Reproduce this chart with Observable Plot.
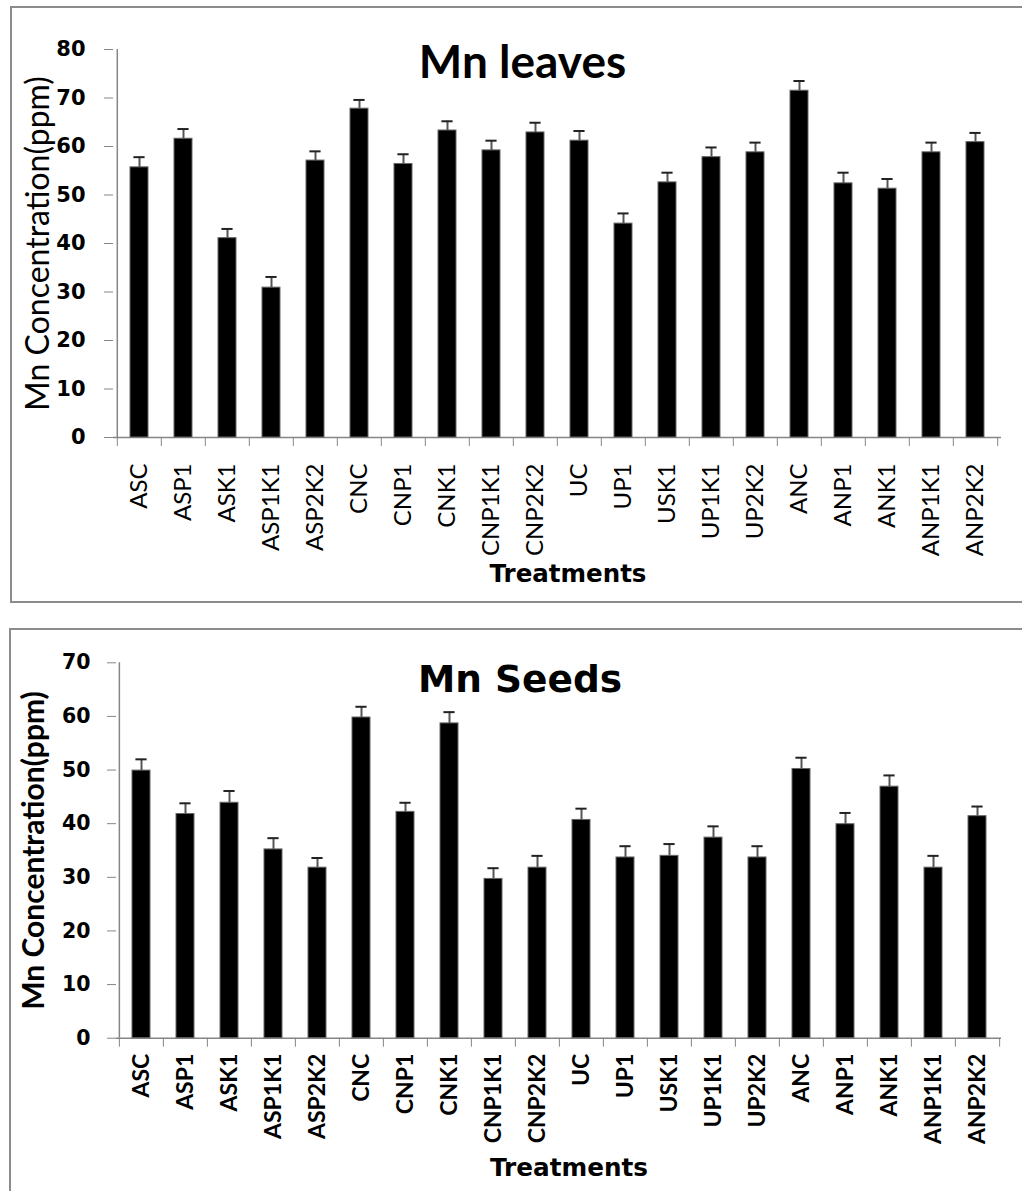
<!DOCTYPE html>
<html><head><meta charset="utf-8">
<script src="https://cdn.jsdelivr.net/npm/d3@7"></script>
<script src="https://cdn.jsdelivr.net/npm/@observablehq/plot@0.6"></script>
<style>
html,body{margin:0;padding:0;background:#fff;overflow:hidden;width:1022px;height:1191px;}
</style></head><body><div id="c"></div>
<script>
const cats = ["ASC","ASP1","ASK1","ASP1K1","ASP2K2","CNC","CNP1","CNK1","CNP1K1","CNP2K2","UC","UP1","USK1","UP1K1","UP2K2","ANC","ANP1","ANK1","ANP1K1","ANP2K2"];
const leafMn = [55.7,61.6,41.1,30.9,57.1,67.8,56.4,63.3,59.2,62.9,61.2,44.1,52.6,57.8,58.8,71.5,52.4,51.3,58.8,60.9];
const leafErr = [2.1,2.0,1.9,2.2,1.9,1.8,2.0,1.9,2.0,2.0,2.0,2.1,2.0,2.0,2.0,2.0,2.2,2.0,2.0,1.9];
const seedMn = [49.9,41.8,43.9,35.2,31.8,59.8,42.2,58.7,29.7,31.8,40.7,33.7,34.0,37.4,33.7,50.2,39.9,46.9,31.8,41.4];
const seedErr = [2.1,2.0,2.2,2.1,1.8,2.0,1.7,2.1,2.0,2.2,2.1,2.1,2.2,2.1,2.1,2.1,2.1,2.1,2.2,1.8];
const leafTicks = [0,10,20,30,40,50,60,70,80];
const seedTicks = [0,10,20,30,40,50,60,70];
const yLabel = "Mn Concentration(ppm)";
const xLabel = "Treatments";

function chart(o) {
  const data = cats.map((c, i) => ({cat: c, v: o.values[i], e: o.errs[i]}));
  const step = (o.width - o.ml - o.mr) / cats.length;
  const axisGray = "#868686";
  return Plot.plot({
    width: o.width, height: o.height,
    marginLeft: o.ml, marginRight: o.mr, marginTop: o.mt, marginBottom: o.mb,
    style: {maxWidth: "none", background: "#fff", border: "2px solid #8c8c8c", display: "block", margin: o.cssMargin, fontFamily: "Lato", color: "black", overflow: "visible"},
    x: {domain: cats, paddingInner: 0.6, paddingOuter: 0.3, axis: null},
    y: {domain: [0, o.ymax], axis: null},
    marks: [
      Plot.ruleY([0], {stroke: axisGray, strokeWidth: 1.5}),
      Plot.ruleX([cats[0]], {y1: 0, y2: o.ymax, dx: -step / 2, stroke: axisGray, strokeWidth: 1.5}),
      Plot.axisY({ticks: o.yticks, tickSize: 9, tickPadding: o.ytp, stroke: axisGray, fill: "black", fontFamily: "DejaVu Sans", fontWeight: "bold", fontSize: o.yfs, label: null}),
      Plot.axisX({ticks: cats, tickSize: 9, tickFormat: () => "", dx: -step / 2, stroke: axisGray, label: null}),
      Plot.axisX({ticks: [cats[cats.length - 1]], tickSize: 9, tickFormat: () => "", dx: step / 2, stroke: axisGray, label: null}),
      Plot.axisX({ticks: cats, tickSize: 0, tickPadding: o.xtp, tickRotate: -90, fill: "black", fontFamily: "Lato", fontWeight: o.xfw, fontSize: o.xfs, label: null}),
      Plot.barY(data, {x: "cat", y: "v", fill: "black", stroke: "#666", strokeWidth: 1}),
      Plot.ruleX(data, {x: "cat", y1: "v", y2: d => d.v + d.e, stroke: "#555", strokeWidth: 2}),
      Plot.tickY(data, {x: "cat", y: d => d.v + d.e, stroke: "#222", strokeWidth: 2, insetLeft: 3.4, insetRight: 3.4}),
      Plot.text([o.title], {frameAnchor: "top", textAnchor: "middle", lineAnchor: "middle", dx: o.tdx, dy: o.tdy, fontFamily: o.tff, fontWeight: "bold", fontSize: o.tfs, fill: "black"}),
      Plot.text([yLabel], {frameAnchor: "left", textAnchor: "middle", lineAnchor: "middle", rotate: -90, dx: o.ldx, fontFamily: "Lato", fontWeight: o.lfw, fontSize: o.lfs, fill: "black"}),
      Plot.text([xLabel], {frameAnchor: "bottom", textAnchor: "middle", lineAnchor: "middle", dx: o.xldx, dy: o.xldy, fontFamily: "DejaVu Sans", fontWeight: "bold", fontSize: o.xlfs, fill: "black"})
    ]
  });
}

const c = document.getElementById("c");
c.appendChild(chart({
  values: leafMn, errs: leafErr, ymax: 80, yticks: leafTicks,
  width: 1030, height: 593, ml: 101, mr: 41, mt: 41, mb: 164, cssMargin: "6px 0 0 10px",
  ytp: 19, yfs: 21, xtp: 26, xfs: 24, xfw: "normal",
  title: "Mn leaves", tff: "Lato", tfs: 46, tdx: -35, tdy: 13.3,
  ldx: -74.5, lfw: "normal", lfs: 32,
  xldx: 10.5, xldy: 137, xlfs: 24.5
}));
c.appendChild(chart({
  values: seedMn, errs: seedErr, ymax: 70, yticks: seedTicks,
  width: 1030, height: 575, ml: 105, mr: 40, mt: 32.3, mb: 167.3, cssMargin: "25px 0 0 9px",
  ytp: 17, yfs: 20.5, xtp: 15.5, xfs: 23, xfw: "bold",
  title: "Mn Seeds", tff: "DejaVu Sans", tfs: 37.5, tdx: -39, tdy: 17.4,
  ldx: -82.5, lfw: "bold", lfs: 30,
  xldx: 10, xldy: 129.4, xlfs: 24.7
}));
</script></body></html>
